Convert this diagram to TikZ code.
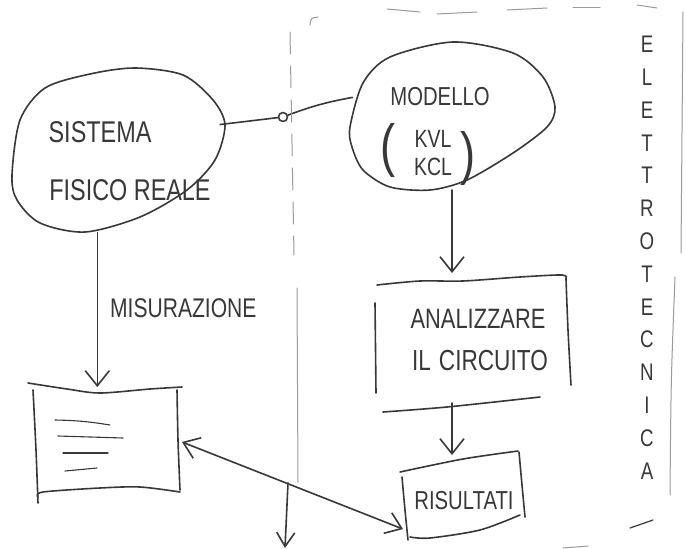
\documentclass[tikz,border=0pt]{standalone}
\usepackage{fontspec}
\setmainfont{Liberation Sans}
\newfontfamily\handfont{Liberation Sans}[FakeStretch=0.78]
\usetikzlibrary{arrows.meta,shapes.geometric}
\definecolor{ink}{HTML}{383838}
\definecolor{lightink}{HTML}{9A9A9A}
\begin{document}
\begin{tikzpicture}[x=1pt,y=-1pt,
  pencil/.style={draw=ink,line width=1.6pt,line cap=round,line join=round},
  faint/.style={draw=lightink,line width=1pt,line cap=round},
  barb/.style={pencil,-{Straight Barb[length=15pt,width=24pt]}},
  twobarb/.style={pencil,{Straight Barb[length=15pt,width=22pt]}-{Straight Barb[length=15pt,width=22pt]}},
  hand/.style={text=ink,font=\handfont\fontsize{#1}{#1}\selectfont,inner sep=0pt},
  hand/.default=27,
  holder/.style={inner sep=0pt,outer sep=0pt}
]
\useasboundingbox[fill=white] (0,0) rectangle (686,549);

% ---- physical system blob ----
\node[holder,ellipse,minimum width=215pt,minimum height=165pt] (sys) at (118,150) {};
\draw[pencil] plot[smooth cycle] coordinates {(12,175)(20,120)(45,88)(90,74)(135,68)(183,75)(213,100)(225,125)(215,160)(187,190)(140,217)(85,232)(40,223)(17,200)};
\node[hand=30] (sysA) at (100,132) {SISTEMA};
\node[hand=30] (sysB) at (130,190) {FISICO REALE};

% ---- model blob ----
\node[holder,ellipse,minimum width=205pt,minimum height=150pt] (mod) at (452,115) {};
\draw[pencil] plot[smooth cycle] coordinates {(350,127)(363,83)(390,57)(453,42)(513,53)(543,77)(555,107)(547,127)(513,153)(467,180)(430,190)(390,187)(363,170)(352,147)};
\node[hand=26] (modA) at (440,97) {MODELLO};
\node[hand=58] (parL) at (388,150) {(};
\node[hand=25] (kvl) at (433,139) {KVL};
\node[hand=25] (kcl) at (433,167) {KCL};
\node[hand=58] (parR) at (468,158) {)};

% ---- link between the two blobs ----
\node[pencil,circle,minimum size=9pt,inner sep=0pt] (junc) at (283,117) {};
\draw[pencil] (sys.14) -- (junc);
\draw[pencil] (junc) to[bend left=5] (mod.170);

% ---- measured data sheet ----
\node[holder,minimum width=150pt,minimum height=110pt] (sheet) at (107,442) {};
\draw[pencil] plot[smooth] coordinates {(28,383)(67,389)(100,393)(150,389)(182,387)};
\draw[pencil] plot[smooth] coordinates {(33,390)(36,450)(38,503)};
\draw[pencil] plot[smooth] coordinates {(177,390)(178,440)(180,490)};
\draw[pencil] plot[smooth] coordinates {(38,497)(43,492)(100,488)(140,487)(180,492)};
\draw[pencil,line width=1.1pt] (55,420) to[bend left=4] (110,425);
\draw[pencil,line width=1.1pt] (58,436) -- (123,438);
\draw[pencil,line width=1.1pt] (63,453) -- (108,453);
\draw[pencil,line width=1.1pt] (65,471) -- (97,468);

% measurement arrow
\draw[barb] (sheet.100 |- sys.south) -- (sheet.100);
\node[hand=27,anchor=west] (meas) at (110,308) {MISURAZIONE};

% ---- circuit analysis box ----
\node[holder,minimum width=195pt,minimum height=130pt] (an) at (472,338) {};
\draw[pencil] plot[smooth] coordinates {(377,285)(420,281)(463,281)(520,277)(562,275)(566,279)};
\draw[pencil] plot[smooth] coordinates {(566,279)(568,330)(571,385)};
\draw[pencil] (375,303) -- (376,393);
\draw[pencil] plot[smooth] coordinates {(383,412)(447,407)(540,397)};
\node[hand=28] (anA) at (478,319) {ANALIZZARE};
\node[hand=29] (anB) at (480,361) {IL\hspace{8pt}CIRCUITO};

% ---- results box ----
\node[holder,minimum width=118pt,minimum height=80pt] (ris) at (462,495) {};
\draw[pencil] plot[smooth] coordinates {(400,472)(463,459)(518,451)};
\draw[pencil] plot[smooth] coordinates {(519,452)(522,485)(525,517)};
\draw[pencil] plot[smooth] coordinates {(402,477)(405,510)(408,540)};
\draw[pencil] plot[smooth] coordinates {(410,537)(430,538)(480,530)(520,515)};
\node[hand=26] (risA) at (464,501) {RISULTATI};

% ---- flow on the model side ----
\coordinate (drop) at (452,0);
\draw[barb] (mod.south -| drop) -- (drop |- an.north);
\draw[barb] (an.south -| drop) -- (drop |- ris.north);

% comparison between measurement and results
\draw[twobarb] (sheet.east) -- (ris.210);

% ---- dividing line ----
\draw[faint,dash pattern=on 22pt off 12pt] (290,32) -- (294,255);
\draw[faint] (297,288) -- (298,482);
\coordinate (divfoot) at (288,483);
\coordinate (pageend) at (285,548);
\draw[pencil,-{Straight Barb[length=14pt,width=18pt]}] (divfoot) -- (pageend);

% ---- frame around the electrotechnics side ----
\draw[faint] (310,25) .. controls (311,18) .. (318,17);
\draw[faint] (387,9) -- (420,12);
\draw[faint] (437,14) -- (477,12);
\draw[faint] (507,10) -- (547,8);
\draw[faint] (573,7) -- (600,7);
\draw[faint] (637,5) -- (657,8);
\draw[faint] (683,12) -- (681,253);
\draw[faint] (675,277) .. controls (671,380) .. (670,495);
\draw[pencil,line width=1.2pt] (630,528) -- (653,520);
\draw[faint] (563,548) -- (588,546);

% vertical title
\node[text=ink,inner sep=0pt,align=center,anchor=north,
      font=\handfont\fontsize{24}{32.8}\selectfont] (title) at (647,36)
  {E\\L\\E\\T\\T\\R\\O\\T\\E\\C\\N\\I\\C\\A};
\end{tikzpicture}
\end{document}
